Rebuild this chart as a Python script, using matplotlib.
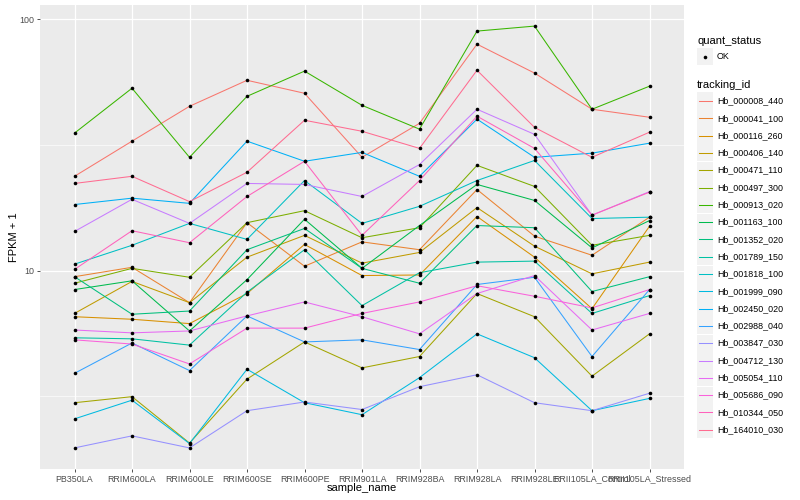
###libraries###
import numpy as np
import matplotlib
matplotlib.use("Agg")
import matplotlib.pyplot as plt
from matplotlib.lines import Line2D
from matplotlib.patches import Rectangle

plt.rcParams['font.family'] = ['Liberation Sans', 'DejaVu Sans']

###data (FPKM + 1)###
samples = ["PB350LA", "RRIM600LA", "RRIM600LE", "RRIM600SE", "RRIM600PE", "RRIM901LA",
           "RRIM928BA", "RRIM928LA", "RRIM928LE", "RRII105LA_Control", "RRII105LA_Stressed"]

tracking_ids = ["Hb_000008_440", "Hb_000041_100", "Hb_000116_260", "Hb_000406_140",
                "Hb_000471_110", "Hb_000497_300", "Hb_000913_020", "Hb_001163_100",
                "Hb_001352_020", "Hb_001789_150", "Hb_001818_100", "Hb_001999_090",
                "Hb_002450_020", "Hb_002988_040", "Hb_003847_030", "Hb_004712_130",
                "Hb_005054_110", "Hb_005686_090", "Hb_010344_050", "Hb_164010_030"]

hb_000008_440 = [23.7, 32.7, 45.0, 57.1, 50.7, 28.2, 38.5, 79.5, 61.0, 43.8, 40.7]
hb_000041_100 = [9.45, 10.3, 7.45, 15.5, 10.4, 13.0, 12.1, 21.0, 13.7, 11.5, 16.3]
hb_000116_260 = [6.55, 6.4, 6.15, 8.1, 12.7, 9.55, 9.6, 16.4, 11.3, 7.05, 15.0]
hb_000406_140 = [6.75, 9.05, 7.45, 11.3, 13.8, 10.7, 11.8, 17.8, 12.5, 9.7, 10.8]
hb_000471_110 = [2.98, 3.15, 2.06, 3.7, 5.2, 4.1, 4.55, 8.1, 6.55, 3.8, 5.6]
hb_000497_300 = [8.9, 10.2, 9.4, 15.5, 17.3, 13.5, 14.8, 26.2, 21.6, 12.6, 13.8]
hb_000913_020 = [35.2, 53.1, 28.2, 49.3, 62.1, 45.4, 36.5, 89.6, 93.8, 43.8, 54.1]
hb_001163_100 = [8.4, 9.1, 5.75, 9.2, 16.0, 10.2, 15.1, 22.0, 19.0, 12.3, 15.8]
hb_001352_020 = [9.45, 6.7, 6.9, 12.1, 14.7, 10.2, 8.9, 15.1, 14.8, 8.25, 9.45]
hb_001789_150 = [5.4, 5.35, 5.05, 8.2, 12.1, 7.25, 9.8, 10.8, 10.9, 6.75, 7.95]
hb_001818_100 = [10.6, 12.6, 15.4, 13.3, 22.8, 15.4, 18.0, 22.8, 27.4, 16.1, 16.3]
hb_001999_090 = [2.57, 3.05, 2.05, 4.05, 2.98, 2.67, 3.75, 5.6, 4.5, 2.77, 3.1]
hb_002450_020 = [18.3, 19.4, 18.5, 32.7, 27.2, 29.5, 23.7, 40.0, 28.2, 29.3, 32.1]
hb_002988_040 = [3.9, 5.15, 4.0, 6.6, 5.2, 5.3, 4.85, 8.8, 9.4, 4.55, 8.4]
hb_003847_030 = [1.97, 2.2, 1.97, 2.77, 3.0, 2.8, 3.45, 3.85, 2.98, 2.77, 3.25]
hb_004712_130 = [14.3, 19.2, 15.4, 22.2, 22.0, 19.7, 26.4, 43.8, 34.8, 16.6, 20.6]
hb_005054_110 = [5.8, 5.65, 5.75, 6.6, 7.5, 6.55, 5.6, 8.1, 9.55, 5.8, 6.75]
hb_005686_090 = [5.3, 5.1, 4.25, 5.9, 5.9, 6.75, 7.5, 8.7, 7.9, 7.1, 8.4]
hb_010344_050 = [10.1, 14.4, 12.9, 19.7, 27.2, 13.8, 22.8, 41.1, 30.6, 16.6, 20.5]
hb_164010_030 = [22.2, 23.7, 18.8, 24.6, 39.6, 35.8, 30.6, 62.6, 37.1, 28.2, 35.5]

series = [hb_000008_440, hb_000041_100, hb_000116_260, hb_000406_140, hb_000471_110,
          hb_000497_300, hb_000913_020, hb_001163_100, hb_001352_020, hb_001789_150,
          hb_001818_100, hb_001999_090, hb_002450_020, hb_002988_040, hb_003847_030,
          hb_004712_130, hb_005054_110, hb_005686_090, hb_010344_050, hb_164010_030]

#ggplot default hue palette for 20 levels
colors = ["#F8766D", "#EA8331", "#D89000", "#C09B00", "#A3A500", "#7CAE00", "#39B600",
          "#00BB4E", "#00BF7D", "#00C1A3", "#00BFC4", "#00BAE0", "#00B0F6", "#35A2FF",
          "#9590FF", "#C77CFF", "#E76BF3", "#FA62DB", "#FF62BC", "#FF6C91"]

###figure###
W, H = 800, 500
fig = plt.figure(figsize=(8, 5), dpi=100)
ax = fig.add_axes([40 / W, 1 - 469 / H, (684 - 40) / W, (469 - 5) / H])
ax.set_facecolor("#EBEBEB")

x = np.arange(len(samples))
for vals, c in zip(series, colors):
    ax.plot(x, vals, color=c, lw=0.75, zorder=2, solid_capstyle='butt')
for vals in series:
    ax.plot(x, vals, 'o', color='black', ms=2.6, zorder=3, markeredgewidth=0)

#scales like ggplot (5% expansion on log scale, 0.6 on discrete)
ax.set_yscale('log')
lo = np.log10(min(min(s) for s in series))
hi = np.log10(max(max(s) for s in series))
pad = (hi - lo) * 0.05
ax.set_ylim(10 ** (lo - pad), 10 ** (hi + pad))
ax.set_xlim(-0.6, len(samples) - 1 + 0.6)

ax.set_yticks([10, 100])
ax.set_yticklabels(["10", "100"])
ax.set_yticks([10 ** 0.5, 10 ** 1.5], minor=True)
ax.yaxis.set_minor_formatter(plt.NullFormatter())
ax.set_xticks(x)
ax.set_xticklabels(samples)

ax.grid(True, which='major', color='white', lw=0.9, zorder=1)
ax.grid(True, which='minor', axis='y', color='white', lw=0.45, zorder=1)
ax.set_axisbelow(True)
for sp in ax.spines.values():
    sp.set_visible(False)
ax.tick_params(which='major', length=2, width=0.6, color='#333333', pad=2,
               labelsize=6.4, labelcolor='#4D4D4D')
ax.tick_params(which='minor', length=0)

fig.text(14 / W, 1 - 237 / H, "FPKM + 1", rotation=90, ha='center', va='center', fontsize=8)
fig.text(362 / W, 1 - 488 / H, "sample_name", ha='center', va='center', fontsize=8)

###legend drawn by hand###
kx0, kw, kh = 697, 16, 17
fig.text(kx0 / W, 1 - 41 / H, "quant_status", ha='left', va='center', fontsize=8)
fig.add_artist(Rectangle((kx0 / W, 1 - 65 / H), kw / W, kh / H, transform=fig.transFigure,
                         facecolor='#F2F2F2', edgecolor='none'))
fig.add_artist(Line2D([(kx0 + kw / 2) / W], [1 - 56.5 / H], marker='o', color='black',
                      ms=2.6, markeredgewidth=0, transform=fig.transFigure))
fig.text(717 / W, 1 - 56.5 / H, "OK", ha='left', va='center', fontsize=6.4)

fig.text(kx0 / W, 1 - 85 / H, "tracking_id", ha='left', va='center', fontsize=8)
for i, (name, c) in enumerate(zip(tracking_ids, colors)):
    yc = 101 + i * 17.3
    fig.add_artist(Rectangle((kx0 / W, 1 - (yc + kh / 2) / H), kw / W, kh / H,
                             transform=fig.transFigure, facecolor='#F2F2F2', edgecolor='none'))
    fig.add_artist(Line2D([(kx0 + 1.5) / W, (kx0 + kw - 1.5) / W], [1 - yc / H, 1 - yc / H],
                          color=c, lw=0.75, transform=fig.transFigure))
    fig.text(717 / W, 1 - yc / H, name, ha='left', va='center', fontsize=6.4)

fig.savefig("out.png", dpi=100, facecolor='white')
